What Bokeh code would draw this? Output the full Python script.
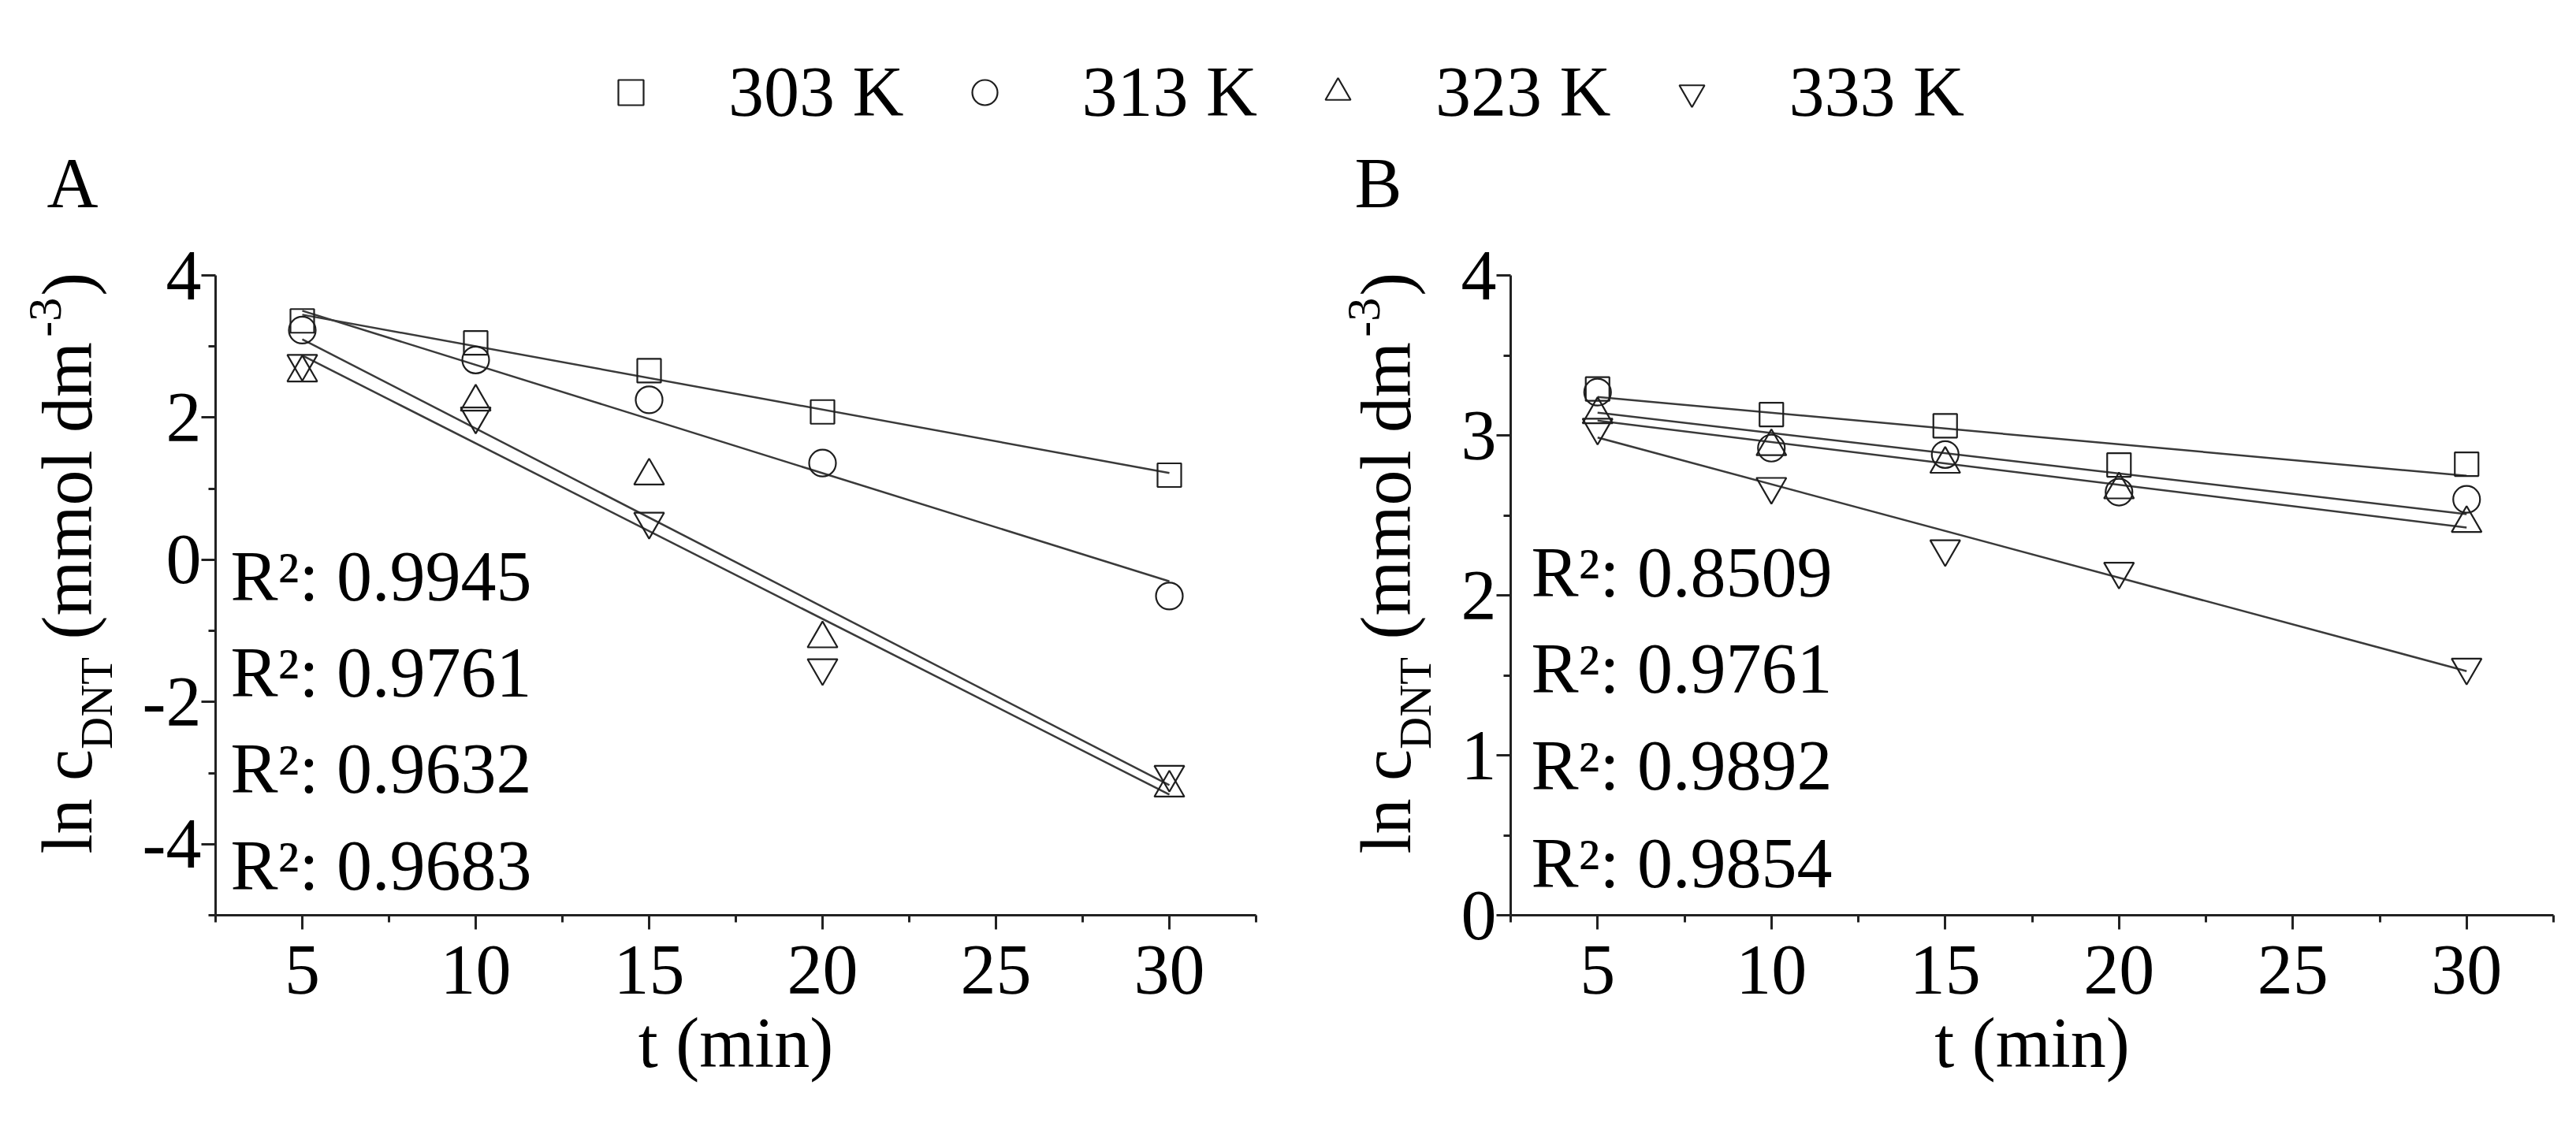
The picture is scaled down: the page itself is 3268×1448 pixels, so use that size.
import numpy as np
from bokeh.plotting import figure
from bokeh.models import Range1d, FixedTicker, Label, Legend, LegendItem
from bokeh.layouts import column, row
from bokeh.embed import file_html
from bokeh.resources import INLINE

# ---------------- data ----------------
t_min = [5, 10, 15, 20, 30]
series_names = ["303 K", "313 K", "323 K", "333 K"]
series_markers = ["square", "circle", "triangle", "inverted_triangle"]

# Panel A: ln c_DNT
a_303 = [3.36, 3.05, 2.66, 2.08, 1.19]
a_313 = [3.23, 2.81, 2.25, 1.36, -0.51]
a_323 = [2.63, 2.22, 1.18, -1.11, -3.21]
a_333 = [2.76, 2.02, 0.54, -1.52, -3.02]

# Panel B: ln c_DNT
b_303 = [3.29, 3.13, 3.06, 2.815, 2.82]
b_313 = [3.27, 2.92, 2.88, 2.645, 2.60]
b_323 = [3.13, 2.93, 2.82, 2.66, 2.45]
b_333 = [3.05, 2.68, 2.29, 2.15, 1.55]

r2_a = ["0.9945", "0.9761", "0.9632", "0.9683"]
r2_b = ["0.8509", "0.9761", "0.9892", "0.9854"]

x_ticks = [5, 10, 15, 20, 25, 30]
x_minor = [2.5, 7.5, 12.5, 17.5, 22.5, 27.5, 32.5]
ya_ticks = [-4, -2, 0, 2, 4]
ya_minor = [-5, -3, -1, 1, 3]
yb_ticks = [0, 1, 2, 3, 4]
yb_minor = [0.5, 1.5, 2.5, 3.5]

# ---------------- style ----------------
FONT = "Liberation Serif"
FS = "90px"
AX = "#222222"
LINE = "#3a3a3a"
MK = "#1e1e1e"
marker_size = {"square": 30, "circle": 34, "triangle": 38, "inverted_triangle": 38}
BASE_FIX = 0.3  # em: Bokeh label anchor vs. alphabetic baseline

# Times/Liberation Serif advance widths (1/1000 em) for the composite y label
W = {'l': 278, 'n': 500, ' ': 250, 'c': 444, 'D': 722, 'N': 722, 'T': 611, '(': 333,
     'm': 778, 'o': 500, 'd': 500, '-': 333, '3': 500, ')': 333}
# text, font size, baseline shift (px, + = subscript), gap before (px)
ylabel_pieces = [("ln c", 90, 0, 0), ("DNT", 57, 27, 0), ("(mmol dm", 90, 0, 22.5),
                 ("-3", 60, -37, 6), (")", 90, 0, 2)]

LEG_H = 292
ROW_H = 1138
TOP, BOTTOM = 57, 269


def style_axis(ax):
    ax.axis_line_width = 3
    ax.axis_line_color = AX
    ax.major_tick_line_width = 3
    ax.major_tick_line_color = AX
    ax.major_tick_out = 18
    ax.major_tick_in = 0
    ax.minor_tick_line_width = 3
    ax.minor_tick_line_color = AX
    ax.minor_tick_out = 9
    ax.minor_tick_in = 0
    ax.major_label_text_font = FONT
    ax.major_label_text_font_size = FS
    ax.major_label_text_color = "black"


def make_panel(series, y_lo, y_hi, yt, ym, width, left, right, r2, r2_dx, r2_dy):
    p = figure(width=width, height=ROW_H, x_range=Range1d(2.5, 32.5),
               y_range=Range1d(y_lo, y_hi), output_backend="svg",
               toolbar_location=None, min_border_left=left, min_border_right=right,
               min_border_top=TOP, min_border_bottom=BOTTOM)
    p.grid.visible = False
    p.outline_line_color = None
    p.background_fill_color = "white"
    p.border_fill_color = "white"

    p.xaxis.ticker = FixedTicker(ticks=x_ticks, minor_ticks=x_minor)
    p.yaxis.ticker = FixedTicker(ticks=yt, minor_ticks=ym)
    style_axis(p.xaxis[0])
    style_axis(p.yaxis[0])
    p.yaxis.major_label_overrides = {v: str(v) for v in yt}
    p.xaxis.major_label_standoff = 21
    p.yaxis.major_label_standoff = 0
    p.xaxis.axis_label = "t (min)"
    p.xaxis.axis_label_text_font = FONT
    p.xaxis.axis_label_text_font_size = FS
    p.xaxis.axis_label_text_font_style = "normal"
    p.xaxis.axis_label_text_color = "black"
    p.xaxis.axis_label_standoff = 10

    # regression lines
    for ys in series:
        k, b = np.polyfit(t_min, ys, 1)
        xs = [t_min[0], t_min[-1]]
        p.line(xs, [k * x + b for x in xs], line_color=LINE, line_width=2.5)
    # data points
    for ys, mk in zip(series, series_markers):
        p.scatter(t_min, ys, marker=mk, size=marker_size[mk], fill_color=None,
                  line_color=MK, line_width=2.2)

    # R^2 texts
    for txt, dy in zip(r2, r2_dy):
        p.add_layout(Label(x=2.5, y=y_lo, x_offset=r2_dx, y_offset=dy + BASE_FIX * 90,
                           text="R²: " + txt, text_font=FONT, text_font_size=FS,
                           text_baseline="alphabetic", text_align="left",
                           text_color="black"))
    return p


def make_title_strip(width, base_x):
    """Narrow text-only figure holding the rotated y-axis title."""
    s = figure(width=width, height=ROW_H, x_range=Range1d(0, width),
               y_range=Range1d(BOTTOM, 1081),
               output_backend="svg", toolbar_location=None,
               min_border_left=0, min_border_right=0,
               min_border_top=TOP, min_border_bottom=BOTTOM,
               x_axis_location=None, y_axis_location=None)
    s.grid.visible = False
    s.outline_line_color = None
    pos = 347.0
    for txt, size, shift, gap in ylabel_pieces:
        pos += gap
        s.add_layout(Label(x=base_x + shift - BASE_FIX * size, y=pos, text=txt,
                           angle=np.pi / 2, text_font=FONT,
                           text_font_size=f"{size}px", text_baseline="alphabetic",
                           text_align="left", text_color="black"))
        pos += sum(W[c] for c in txt) * size / 1000.0
    return s


sA = make_title_strip(170, 112)
pA = make_panel([a_303, a_313, a_323, a_333], -5, 4, ya_ticks, ya_minor,
                1472, 103, 49, r2_a, 19, [403, 281, 159, 36])
sB = make_title_strip(190, 143)
pB = make_panel([b_303, b_313, b_323, b_333], 0, 4, yb_ticks, yb_minor,
                1420, 84, 13, r2_b, 26, [408, 286, 163, 39])

# ---------------- shared legend + panel letters ----------------
leg = figure(width=3252, height=LEG_H, x_range=Range1d(0, 3252), y_range=Range1d(0, LEG_H),
             output_backend="svg", toolbar_location=None, min_border=0,
             x_axis_location=None, y_axis_location=None)
leg.grid.visible = False
leg.outline_line_color = None
items = []
for name, mk in zip(series_names, series_markers):
    r = leg.scatter([-50], [-50], marker=mk, size=marker_size[mk], fill_color=None,
                    line_color=MK, line_width=2.2)
    items.append(LegendItem(label=name, renderers=[r]))
legend = Legend(items=items, orientation="horizontal", location="top_center",
                glyph_width=80, glyph_height=80, label_standoff=84, spacing=62,
                padding=0, margin=65, border_line_color=None,
                background_fill_alpha=0, label_text_font=FONT,
                label_text_font_size=FS, label_text_color="black")
leg.add_layout(legend, "center")
for letter, lx in [("A", 59), ("B", 1718)]:
    leg.add_layout(Label(x=lx, y=33 + BASE_FIX * 90, text=letter, text_font=FONT,
                         text_font_size=FS, text_baseline="alphabetic",
                         text_align="left", text_color="black"))

layout = column(leg, row(sA, pA, sB, pB))
open("out.html", "w").write(file_html(layout, INLINE))
